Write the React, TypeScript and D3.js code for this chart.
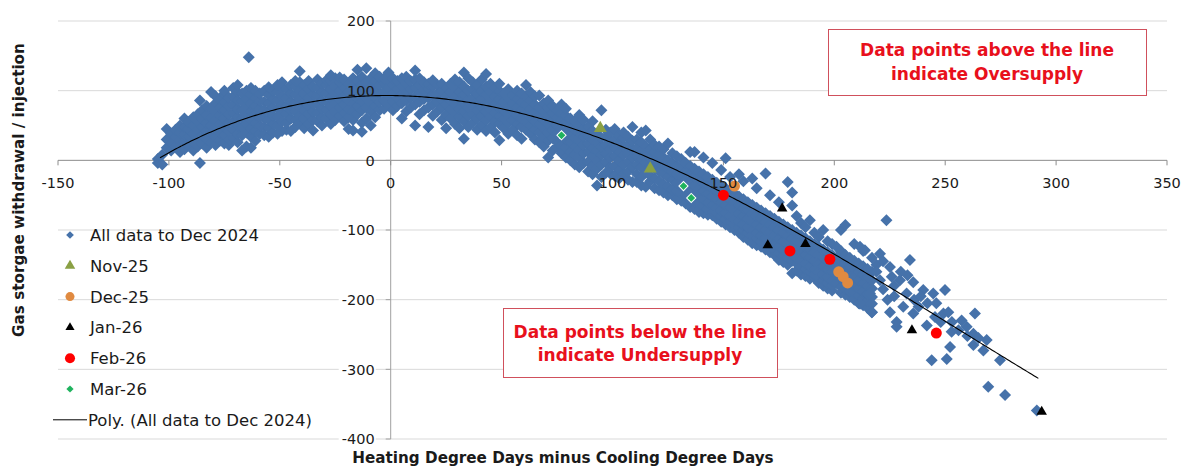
import * as d3 from 'd3'

const width = 1192
const height = 470
const font = '"DejaVu Sans", sans-serif'

const xTicks = [-150, -100, -50, 0, 50, 100, 150, 200, 250, 300, 350]
const yTicks = [200, 100, 0, -100, -200, -300, -400]

// All data to Dec 2024: each row is [x, y1, y2, ...]
const historyColumns: number[][] = [
  [-105, -4, 2], [-103, -6, 8], [-101, 18, 30, 45], [-99, 14, 25, 38], [-97, 20, 33, 44],
  [-95, 12, 28, 40, 50], [-93, 16, 26, 37, 48, 60], [-91, 22, 34, 45, 55], [-89, 14, 25, 38, 50, 62],
  [-87, 20, 31, 44, 56, 66], [-86, -4, 86], [-85, 24, 36, 48, 60, 72], [-83, 18, 30, 42, 54, 65, 78],
  [-81, 26, 38, 50, 62, 74, 98], [-79, 22, 34, 46, 58, 70, 82, 92], [-77, 28, 40, 52, 64, 76, 88],
  [-75, 24, 36, 48, 60, 72, 84, 96, 100], [-73, 22, 30, 42, 54, 66, 78, 90], [-71, 32, 44, 56, 68, 80, 92, 104],
  [-69, 26, 38, 50, 62, 74, 86, 98, 108], [-67, 14, 36, 48, 60, 72, 84, 96], [-65, 20, 40, 52, 64, 76, 88, 100],
  [-64, 148], [-63, 18, 34, 46, 58, 70, 82, 94, 104], [-61, 28, 42, 54, 66, 78, 90, 100],
  [-59, 38, 50, 62, 74, 86, 96], [-57, 36, 48, 60, 72, 84, 100], [-55, 34, 46, 58, 70, 82, 94, 105],
  [-53, 40, 52, 64, 76, 88, 100], [-51, 38, 50, 62, 74, 86, 98, 108], [-49, 42, 56, 68, 80, 92, 104, 112],
  [-47, 44, 54, 66, 78, 90, 102], [-45, 42, 60, 72, 84, 96, 108], [-43, 48, 58, 70, 82, 94, 106, 114],
  [-41, 54, 64, 76, 88, 100, 112, 128], [-39, 46, 60, 72, 84, 96, 108], [-37, 52, 66, 78, 90, 102, 114],
  [-35, 43, 58, 70, 82, 94, 106], [-33, 56, 68, 80, 92, 104, 116], [-31, 50, 62, 74, 86, 98, 110],
  [-29, 60, 72, 84, 96, 108, 115], [-27, 52, 66, 78, 90, 102, 114, 122], [-25, 58, 70, 82, 94, 106, 118],
  [-23, 64, 76, 88, 100, 112, 119], [-21, 56, 68, 80, 92, 104, 116], [-19, 45, 62, 74, 86, 98, 110],
  [-17, 43, 58, 70, 82, 94, 106, 118], [-15, 66, 78, 90, 102, 114, 130], [-13, 41, 54, 72, 84, 96, 108, 120],
  [-11, 60, 76, 88, 100, 112, 132], [-9, 50, 70, 82, 94, 106, 118], [-7, 62, 78, 90, 102, 114, 125],
  [-5, 72, 84, 96, 108, 120], [-3, 74, 86, 98, 110, 118], [-1, 80, 92, 104, 116, 126],
  [1, 72, 84, 96, 108, 118], [3, 78, 90, 102, 114], [5, 60, 82, 94, 106, 118], [7, 70, 86, 98, 110, 120],
  [9, 76, 90, 102, 114], [11, 50, 80, 92, 104, 116, 129], [13, 66, 84, 96, 108, 118], [15, 72, 88, 100, 112],
  [17, 48, 76, 90, 102, 110], [19, 64, 80, 94, 106, 115], [21, 70, 84, 96, 108], [23, 58, 76, 88, 100, 110],
  [25, 46, 66, 80, 92, 104], [27, 60, 74, 86, 98, 110], [29, 52, 68, 80, 92, 104, 116],
  [31, 46, 62, 74, 86, 98, 112], [33, 31, 56, 70, 82, 94, 106, 126], [35, 48, 64, 76, 88, 100, 118],
  [37, 54, 66, 78, 90, 102, 112], [39, 44, 60, 72, 84, 96, 108], [41, 50, 64, 76, 88, 100, 116],
  [43, 42, 58, 70, 82, 94, 106, 124], [45, 48, 62, 74, 86, 98, 110], [47, 40, 56, 68, 80, 92, 104],
  [49, 29, 52, 64, 76, 88, 100, 110], [51, 46, 60, 72, 84, 96], [53, 38, 54, 66, 78, 90, 102],
  [55, 44, 58, 70, 82, 94], [57, 36, 52, 64, 76, 88, 100], [59, 31, 48, 60, 72, 84, 96],
  [61, 44, 56, 68, 80, 92, 108], [63, 38, 50, 62, 74, 86, 98], [65, 30, 44, 56, 68, 80, 92],
  [67, 26, 40, 52, 64, 76, 93], [69, 20, 34, 46, 58, 70, 82], [71, 4, 28, 40, 52, 64, 76, 86],
  [73, 14, 32, 44, 56, 68, 78], [75, 19, 26, 38, 50, 62, 72], [77, 10, 22, 46, 58, 68, 80],
  [79, 4, 18, 30, 42, 54, 64, 74], [81, 0, 12, 26, 38, 50, 60], [83, -6, 8, 20, 32, 44, 56],
  [85, -10, 4, 16, 28, 40, 50, 65], [87, -4, 10, 22, 34, 46, 58], [89, -16, -2, 12, 24, 36, 48],
  [91, -20, -8, 6, 18, 30, 42, 56], [93, -36, -12, 0, 14, 26, 38], [95, -24, -6, 8, 20, 32, 72],
  [97, -18, -2, 10, 22, 34, 44], [99, -19, -10, 4, 16, 28, 40], [101, -22, -8, 6, 18, 30, 45],
  [103, -26, -14, 0, 12, 24, 36], [105, -20, -6, 8, 20, 32, 40], [107, -28, -16, -2, 10, 22, 34],
  [109, -31, -10, 4, 16, 28, 48], [111, -31, -20, -6, 6, 18, 30], [113, -36, -24, -10, 2, 14, 26, 40],
  [115, -38, -18, -4, 8, 20, 43], [117, -30, -22, -8, 4, 16, 30], [119, -40, -26, -12, 0, 12, 22],
  [121, -43, -30, -16, -4, 8, 20], [123, -46, -34, -20, -8, 4, 16], [125, -50, -38, -24, -12, 0, 24],
  [127, -50, -42, -28, -16, -4, 10], [129, -56, -44, -32, -20, -8, 6], [131, -58, -48, -36, -24, -12, 2],
  [133, -62, -50, -40, -28, -16, -4], [135, -67, -56, -44, -32, -20, -8, 12], [137, -70, -60, -48, -36, -24, -12, 12],
  [139, -74, -62, -52, -40, -28, -16], [141, -76, -66, -56, -44, -32, -20, 4], [143, -78, -70, -60, -48, -36, -24],
  [145, -79, -74, -64, -52, -40, -28, -4], [147, -84, -76, -68, -56, -44, -32], [149, -88, -80, -72, -60, -48, -36, -14],
  [151, -92, -84, -76, -64, -52, -40, 3], [153, -96, -88, -80, -68, -56, -44, -24], [155, -100, -92, -84, -72, -60, -48],
  [157, -104, -96, -88, -76, -64, -52, -20], [159, -110, -100, -92, -80, -68, -56, -30], [161, -114, -104, -96, -84, -72, -60],
  [163, -119, -108, -100, -88, -76, -64, -26], [165, -122, -112, -104, -92, -80, -68, -40], [167, -124, -116, -108, -96, -84, -72],
  [169, -128, -120, -112, -100, -88, -76, -19], [171, -132, -124, -116, -104, -92, -80, -50], [173, -136, -128, -120, -108, -96, -84],
  [175, -143, -132, -124, -112, -100, -88, -60], [177, -146, -136, -128, -116, -104, -92], [179, -150, -140, -132, -120, -108, -96, -31],
  [181, -162, -144, -136, -124, -112, -100, -46, -65], [183, -158, -148, -140, -128, -116, -104, -80],
  [185, -164, -152, -144, -132, -120, -108, -90], [187, -166, -156, -148, -136, -124, -112, -96],
  [189, -170, -160, -152, -140, -128, -116, -86], [191, -169, -164, -156, -144, -132, -120, -104],
  [193, -176, -168, -160, -148, -136, -124, -110], [195, -180, -172, -164, -152, -140, -128, -100],
  [197, -184, -176, -168, -156, -144, -132, -116], [199, -187, -180, -172, -160, -148, -136, -120],
  [201, -176, -164, -152, -140, -124], [203, -190, -182, -170, -156, -144, -130, -100],
  [205, -193, -184, -172, -160, -148, -136, -93], [207, -196, -188, -176, -164, -152, -140],
  [209, -200, -190, -180, -168, -156, -144, -120], [211, -205, -194, -184, -172, -160, -148],
  [213, -208, -198, -188, -176, -164, -152, -130], [215, -212, -202, -192, -180, -168, -156],
  [217, -218, -206, -196, -184, -172, -160, -140],
]

// the sparse warm tail, point by point
const historyTail: [number, number][] = [
  [220.6, -134], [225.1, -153], [220.6, -172], [225.9, -167], [229.6, -172], [232.6, -191], [231.1, -210],
  [225.1, -218], [216.9, -218], [211.6, -206], [216.1, -191], [213.8, -129], [211.6, -124], [223.5, -86],
  [234.1, -143], [235.6, -175], [228.1, -239], [228.1, -232], [235.6, -220], [240.1, -186], [244.6, -191],
  [249.9, -186], [241.7, -237], [245.4, -225], [249.2, -220], [251.4, -218], [252.9, -246], [257.4, -230],
  [259.7, -239], [263.4, -220], [262.7, -249], [262.7, -265], [267.2, -273], [268.7, -258], [243.9, -287],
  [250.7, -285], [252.2, -268], [274.7, -287], [269.4, -325], [277, -337], [291.3, -359],
  [219, -150], [219, -160], [222, -145], [222, -185], [224, -200], [227, -180], [227, -195], [230, -160],
  [233, -165], [236, -200], [238, -210], [239, -195], [242, -205], [246, -205], [248, -232], [253, -232],
  [256, -244], [260, -252], [265, -255],
]

const nov25: [number, number][] = [[94.5, 46], [117, -12]]
const dec25: [number, number][] = [[155, -37], [202, -160], [204, -167], [206, -176]]
const jan26: [number, number][] = [[176.5, -69], [170, -122], [187, -120], [235, -244], [293.5, -361]]
const feb26: [number, number][] = [[150, -50], [180, -130], [198, -142], [246, -248]]
const mar26: [number, number][] = [[77, 36], [132, -37], [135.5, -54]]

// cubic trendline y = c0 + c1 x + c2 x^2 + c3 x^3, fitted on all data to Dec 2024
const polyCoefficients = [93, -0.0265, -0.0074973, 0.00000968]
const polyRange = [-104, 292]

const legendLabels = ['All data to Dec 2024', 'Nov-25', 'Dec-25', 'Jan-26', 'Feb-26', 'Mar-26', 'Poly. (All data to Dec 2024)']

const blue = '#4672aa'
const olive = '#8aa044'
const orange = '#e08a40'
const red = '#ff0000'
const green = '#1fb35e'

function App() {
  const x = d3.scaleLinear().domain([-150, 350]).range([58, 1167])
  const y = d3.scaleLinear().domain([-400, 200]).range([439, 21])

  const history: [number, number][] = historyColumns
    .flatMap(([cx, ...ys]) => ys.map((v) => [cx, v] as [number, number]))
    .concat(historyTail)

  const sym = (type: d3.SymbolType, size: number) => d3.symbol(type, size)() as string
  const diamond = sym(d3.symbolSquare, 72)
  const novTri = sym(d3.symbolTriangle, 72)
  const janTri = sym(d3.symbolTriangle, 48)
  const dot = sym(d3.symbolCircle, 95)
  const marDiamond = sym(d3.symbolSquare, 42)

  const poly = (v: number) => polyCoefficients.reduce((s, c, i) => s + c * Math.pow(v, i), 0)
  const trend = d3.line<number>().x((v) => x(v)).y((v) => y(poly(v)))(
    d3.range(polyRange[0], polyRange[1] + 0.5, 1)
  ) as string

  const legendY = (i: number) => 235 + i * 30.8
  const legendMarks = [
    { path: sym(d3.symbolSquare, 30), fill: blue, rot: 45 },
    { path: sym(d3.symbolTriangle, 48), fill: olive, rot: 0 },
    { path: sym(d3.symbolCircle, 64), fill: orange, rot: 0 },
    { path: sym(d3.symbolTriangle, 36), fill: '#000', rot: 0 },
    { path: sym(d3.symbolCircle, 80), fill: red, rot: 0 },
    { path: sym(d3.symbolSquare, 26), fill: green, rot: 45 },
  ]

  return (
    <svg width={width} height={height} style={{ position: 'absolute', left: 0, top: 0, background: '#fff' }}
      fontFamily={font}>
      {/* gridlines */}
      {yTicks.map((t) => (
        <line key={t} x1={58} x2={1167} y1={y(t)} y2={y(t)} stroke={t === 0 ? '#8c8c8c' : '#d9d9d9'} strokeWidth={1} />
      ))}
      <line x1={x(0)} x2={x(0)} y1={y(200)} y2={y(-400)} stroke="#a0a0a0" />
      {xTicks.map((t) => (
        <line key={t} x1={x(t)} x2={x(t)} y1={y(0)} y2={y(0) + 5} stroke="#8c8c8c" />
      ))}
      {yTicks.map((t) => (
        <line key={t} x1={x(0) - 5} x2={x(0)} y1={y(t)} y2={y(t)} stroke="#a0a0a0" />
      ))}

      {/* label backdrops on the empty gridlines */}
      {yTicks.filter((t) => t === 200 || t < 0).map((t) => (
        <rect key={t} x={x(0) - 52} y={y(t) - 8} width={37} height={16} fill="#fff" />
      ))}

      {/* history cloud */}
      {history.map(([a, b], i) => (
        <path key={i} d={diamond} transform={`translate(${x(a)},${y(b)}) rotate(45)`} fill={blue} />
      ))}

      <path d={trend} fill="none" stroke="#000" strokeWidth={1.1} />

      {nov25.map(([a, b], i) => (
        <path key={i} d={novTri} transform={`translate(${x(a)},${y(b)})`} fill={olive} />
      ))}
      {dec25.map(([a, b], i) => (
        <path key={i} d={dot} transform={`translate(${x(a)},${y(b)})`} fill={orange} />
      ))}
      {jan26.map(([a, b], i) => (
        <path key={i} d={janTri} transform={`translate(${x(a)},${y(b)})`} fill="#000" />
      ))}
      {feb26.map(([a, b], i) => (
        <path key={i} d={dot} transform={`translate(${x(a)},${y(b)})`} fill={red} />
      ))}
      {mar26.map(([a, b], i) => (
        <path key={i} d={marDiamond} transform={`translate(${x(a)},${y(b)}) rotate(45)`} fill={green}
          stroke="#fff" strokeWidth={1} />
      ))}

      {/* tick labels */}
      {xTicks.map((t) => (
        <text key={t} x={x(t)} y={y(0) + 28} textAnchor="middle" fontSize={14.5} fill="#1a1a1a">{t}</text>
      ))}
      {yTicks.map((t) => (
        <text key={t} x={x(0) - 16} y={y(t)} dy="0.36em" textAnchor="end" fontSize={14.5} fill="#1a1a1a">{t}</text>
      ))}

      {/* axis titles */}
      <text x={563} y={463} textAnchor="middle" fontSize={15.2} fontWeight="bold" fill="#1a1a1a">
        Heating Degree Days minus Cooling Degree Days
      </text>
      <text transform="translate(24,190) rotate(-90)" textAnchor="middle" fontSize={15.2} fontWeight="bold" fill="#1a1a1a">
        Gas storgae withdrawal / injection
      </text>

      {/* legend */}
      {legendMarks.map((m, i) => (
        <path key={i} d={m.path} transform={`translate(70,${legendY(i)}) rotate(${m.rot})`} fill={m.fill} />
      ))}
      <line x1={53} x2={87} y1={legendY(6)} y2={legendY(6)} stroke="#000" strokeWidth={1} />
      {legendLabels.map((l, i) => (
        <text key={l} x={i === 6 ? 88 : 90} y={legendY(i)} dy="0.36em" fontSize={16.5} fill="#1a1a1a">{l}</text>
      ))}

      {/* annotations */}
      <rect x={828.5} y={29.5} width={318} height={66} fill="#fff" stroke="#d0505c" strokeWidth={1} />
      <text x={987} y={50} dy="0.36em" textAnchor="middle" fontSize={17} fontWeight="bold" fill="#e8101c">
        Data points above the line
      </text>
      <text x={987} y={74} dy="0.36em" textAnchor="middle" fontSize={17} fontWeight="bold" fill="#e8101c">
        indicate Oversupply
      </text>
      <rect x={503.5} y={308.5} width={274} height={69} fill="#fff" stroke="#d0505c" strokeWidth={1} />
      <text x={640} y={332} dy="0.36em" textAnchor="middle" fontSize={17} fontWeight="bold" fill="#e8101c">
        Data points below the line
      </text>
      <text x={640} y={355} dy="0.36em" textAnchor="middle" fontSize={17} fontWeight="bold" fill="#e8101c">
        indicate Undersupply
      </text>
    </svg>
  )
}

export default App
